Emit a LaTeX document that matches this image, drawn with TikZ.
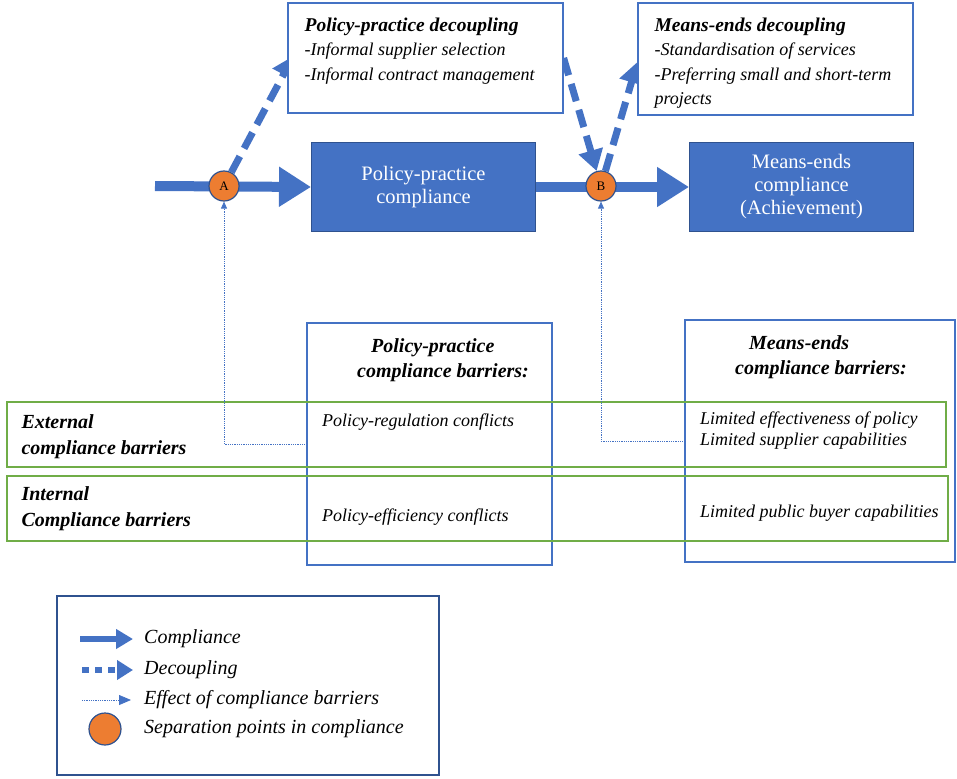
\documentclass[tikz,border=0pt]{standalone}
\usepackage{fontspec}
\setmainfont{Liberation Serif}
\usetikzlibrary{arrows.meta, positioning, calc}
\definecolor{my_blue}{RGB}{68, 114, 196}
\definecolor{my_darkblue}{RGB}{47, 82, 143}
\definecolor{my_orange}{RGB}{237, 125, 49}
\definecolor{my_green}{RGB}{112, 173, 71}
\tikzset {
  framebox/.style = {draw=my_blue, line width=1.2pt, fill=white, rectangle, inner sep=0pt},
  rowbox/.style = {draw=my_green, line width=1.4pt, rectangle, inner sep=0pt},
  complybox/.style = {draw=my_darkblue, line width=1pt, fill=my_blue, text=white, align=center, minimum width=224pt, minimum height=88pt,
    font=\fontsize{20.5}{23}\selectfont},
  sep/.style = {draw=my_darkblue, line width=1.2pt, fill=my_orange, circle, minimum size=30pt, inner sep=0pt, font=\fontsize{13}{13}\selectfont},
  decotext/.style = {align=left, inner sep=0pt, font=\fontsize{18}{24.5}\selectfont\itshape},
  bartext/.style = {align=left, inner sep=0pt, font=\fontsize{18}{21}\selectfont\itshape},
  rowlabel/.style = {align=left, inner sep=0pt, font=\fontsize{20}{25.5}\selectfont\bfseries\itshape},
  legendtext/.style = {anchor=west, inner sep=0pt, font=\fontsize{20}{20}\selectfont\itshape},
  comply/.style = {-{Triangle[length=32pt, width=38pt]}, line width=10pt, color=my_blue},
  decouple/.style = {-{Triangle[length=21pt, width=24pt]}, line width=7pt, dash pattern=on 18pt off 9pt, color=my_blue},
  effect/.style = {-{Triangle[length=7pt, width=6pt]}, line width=0.8pt, densely dotted, color=my_blue},
  % smaller copies for the legend
  complykey/.style = {-{Triangle[length=17pt, width=19pt]}, line width=6pt, color=my_blue},
  decouplekey/.style = {-{Triangle[length=16pt, width=19pt]}, line width=6pt, dash pattern=on 7pt off 6pt, color=my_blue}
}
\pgfdeclarelayer{background}
\pgfsetlayers{background,main}

\begin{document}
\begin{tikzpicture}[x=1pt, y=-1pt]
  \useasboundingbox (0,0) rectangle (957,778);

  \node[framebox, minimum width=275pt, minimum height=110pt] (ppd) at (425.5,58) {};
  \node[decotext, anchor=north west] (ppdtext) at ([xshift=17pt, yshift=-15pt]ppd.north west)
    {{\bfseries\fontsize{19.5}{20}\selectfont Policy-practice decoupling}\\-Informal supplier selection\\-Informal contract management};
  \node[framebox, minimum width=275pt, minimum height=112pt] (med) at (775.5,59) {};
  \node[decotext, anchor=north west] (medtext) at ([xshift=17pt, yshift=-15pt]med.north west)
    {{\bfseries\fontsize{19.5}{20}\selectfont Means-ends decoupling}\\-Standardisation of services\\-Preferring small and short-term\\projects};

  \node[complybox] (ppc) at (423.5,187) {Policy-practice\\compliance};
  \node[complybox, right=153pt of ppc] (mec) {Means-ends\\compliance\\(Achievement)};
  \node[sep] (A) at (224,186) {A};
  \node[sep] (B) at (601,186) {B};
  \coordinate (start) at (155,186);

  \node[framebox, fill=none, minimum width=245pt, minimum height=242pt] (ppb) at (429.5,444) {};
  \node[framebox, fill=none, minimum width=270pt, minimum height=242pt] (meb) at (820,441) {};
  \node[rowbox, minimum width=939pt, minimum height=65pt] (ext) at (476.5,434.5) {};
  \node[rowbox, minimum width=941pt, minimum height=65pt] (int) at (477.5,508.5) {};

  \node[rowlabel, anchor=west] (extlabel) at ([xshift=15pt, yshift=-2pt]ext.west) {External\\compliance barriers};
  \node[rowlabel, anchor=west] (intlabel) at ([xshift=15pt]int.west) {Internal\\Compliance barriers};
  \node[rowlabel, anchor=north west] (ppbtitle) at (357,338) {\hspace*{14pt}Policy-practice\\compliance barriers:};
  \node[rowlabel, anchor=north west] (mebtitle) at (735,335) {\hspace*{14pt}Means-ends\\compliance barriers:};
  \node[bartext, anchor=west] (ppbext) at (322,422) {Policy-regulation conflicts};
  \node[bartext, anchor=west] (ppbint) at (322,517) {Policy-efficiency conflicts};
  \node[bartext, anchor=west] (mebext) at (700,431) {Limited effectiveness of policy\\Limited supplier capabilities};
  \node[bartext, anchor=west] (mebint) at (700,513) {Limited public buyer capabilities};

  \begin{pgfonlayer}{background}
    \draw[comply] (start) -- (ppc.west);
    \draw[comply] (ppc.east) -- (mec.west);
    \draw[decouple] (A) -- ([xshift=6pt, yshift=2pt]ppd.west);
    \draw[decouple] (ppd.east) -- (B);
    \draw[decouple] (B) -- ([yshift=-3pt]med.west);
  \end{pgfonlayer}
  \draw[effect] (ppb.west) -| (A);
  \draw[effect] (meb.west) -| (B);

  % legend
  \node[draw=my_darkblue, line width=1.2pt, rectangle, minimum width=382pt, minimum height=179pt] (legend) at (248,685.5) {};
  \node[legendtext] (lcomp) at (144,639) {Compliance};
  \node[legendtext] (ldeco) at (144,670) {Decoupling};
  \node[legendtext] (leff) at (144,700) {Effect of compliance barriers};
  \node[legendtext] (lsep) at (144,729) {Separation points in compliance};
  \coordinate (lcompa) at (80,639);
  \coordinate (lcompb) at (133,639);
  \coordinate (ldecoa) at (82,670);
  \coordinate (ldecob) at (133,670);
  \coordinate (leffa) at (82,700);
  \coordinate (leffb) at (131,700);
  \draw[complykey] (lcompa) -- (lcompb);
  \draw[decouplekey] (ldecoa) -- (ldecob);
  \draw[effect, -{Triangle[length=12pt, width=10pt]}] (leffa) -- (leffb);
  \node[sep, minimum size=32pt] (lsepdot) at (105,729) {};

\end{tikzpicture}
\end{document}
